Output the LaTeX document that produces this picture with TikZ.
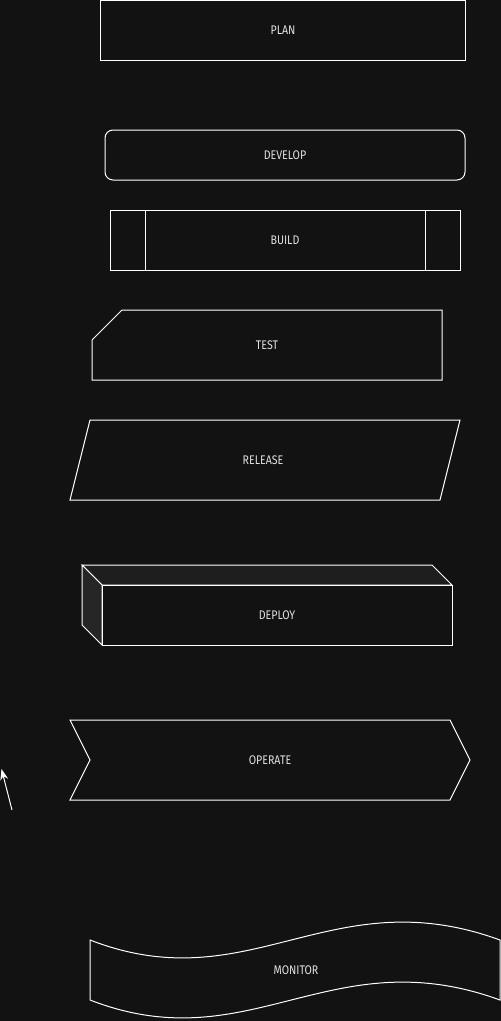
\documentclass[tikz,border=0pt]{standalone}
\usepackage{fontspec}
\setmainfont[FakeStretch=0.85]{Fira Sans}
\usetikzlibrary{arrows.meta}
\definecolor{bg}{HTML}{121212}
\definecolor{topface}{HTML}{1E1E1E}
\definecolor{sideface}{HTML}{262626}
\definecolor{txt}{HTML}{E0E0E0}
\begin{document}
\begin{tikzpicture}[x=1pt,y=-1pt,
  shapeline/.style={draw=white,line width=1pt,line join=miter},
  lbl/.style={text=txt,font=\fontsize{12.5}{14}\selectfont,inner sep=0pt}]
\fill[bg] (0,0) rectangle (501,1021);
\useasboundingbox (0,0) rectangle (501,1021);
% PLAN
\draw[shapeline] (100,0.5) rectangle (465,60);
\node[lbl] (plan) at (283,30) {PLAN};
% DEVELOP
\draw[shapeline,rounded corners=8pt] (105,130) rectangle (465,180);
\node[lbl] (develop) at (285,155) {DEVELOP};
% BUILD
\draw[shapeline] (110,210) rectangle (460,270);
\draw[shapeline] (145,210) -- (145,270) (425,210) -- (425,270);
\node[lbl] (build) at (285,240) {BUILD};
% TEST
\draw[shapeline] (122,310) -- (442,310) -- (442,380) -- (92,380) -- (92,340) -- cycle;
\node[lbl] (test) at (267,345) {TEST};
% RELEASE
\draw[shapeline] (90,420) -- (460,420) -- (440,500) -- (70,500) -- cycle;
\node[lbl] (release) at (263,460) {RELEASE};
% DEPLOY
\filldraw[shapeline,fill=topface] (82,565) -- (432,565) -- (452,585) -- (102,585) -- cycle;
\filldraw[shapeline,fill=sideface] (82,565) -- (102,585) -- (102,645) -- (82,625) -- cycle;
\draw[shapeline] (102,585) rectangle (452,645);
\node[lbl] (deploy) at (277,615) {DEPLOY};
% OPERATE
\draw[shapeline] (70,720) -- (450,720) -- (470,760) -- (450,800) -- (70,800) -- (90,760) -- cycle;
\node[lbl] (operate) at (270,760) {OPERATE};
% free arrow
\coordinate (arrS) at (12,810);
\coordinate (arrE) at (1.5,769);
\draw[draw=white,line width=1pt,-{Stealth[length=11pt,width=8pt]}] (arrS) -- (arrE);
% MONITOR
\draw[shapeline] (90,940) .. controls (250,1002) and (330,878) .. (500,940)
  -- (500,1000) .. controls (330,938) and (250,1062) .. (90,1000) -- cycle;
\node[lbl] (monitor) at (296,970) {MONITOR};
\end{tikzpicture}
\end{document}
